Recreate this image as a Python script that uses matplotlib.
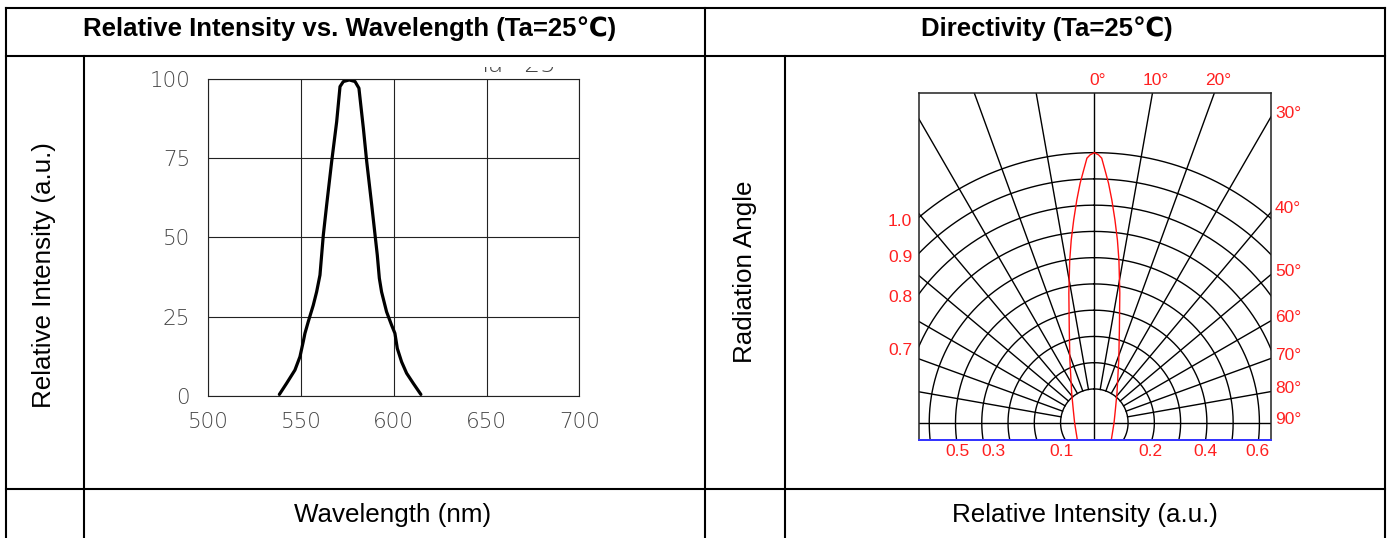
import numpy as np
import matplotlib
matplotlib.use("Agg")
import matplotlib.pyplot as plt
from matplotlib.transforms import Bbox

# spectrum (wavelength nm, relative intensity %)
wavelength = [538.3, 542.2, 546.7, 549.4, 551.2, 552.1, 553.9, 556.6, 558.4, 560.2,
              561.1, 562.0, 563.8, 566.5, 569.2, 571.0, 572.8, 576.0, 579.1, 581.2,
              583.6, 585.4, 588.1, 589.9, 591.1, 592.2, 593.4, 596.1, 598.8, 600.6,
              601.9, 604.2, 606.9, 610.5, 614.6]
intensity = [0.4, 3.9, 8.1, 12.3, 17.1, 19.7, 23.4, 28.6, 32.8, 38.1,
             44.4, 50.7, 60.2, 73.9, 86.5, 97.6, 99.2, 99.7, 99.2, 97.1,
             84.4, 73.9, 60.2, 50.7, 44.4, 37.1, 32.8, 26.5, 22.3, 19.7,
             14.9, 10.7, 7.1, 3.9, 0.4]
x_ticks = [500, 550, 600, 650, 700]
y_ticks = [0, 25, 50, 75, 100]

# directivity lobe (angle deg, relative intensity)
lobe_angle = [0, 0.9, 1.6, 2.4, 3.4, 4.5, 5.8, 7.2, 8.6, 11.1, 15.1, 21.3, 37.4, 58.8, 90, 134]
lobe_int = [1.0, 0.992, 0.98, 0.937, 0.888, 0.827, 0.755, 0.682, 0.609, 0.49, 0.356,
            0.249, 0.138, 0.091, 0.073, 0.088]
top_angles = [0, 10, 20]
side_angles = [30, 40, 50, 60, 70, 80, 90]
left_labels = ["1.0", "0.9", "0.8", "0.7"]
bottom_labels = ["0.5", "0.3", "0.1", "0.2", "0.4", "0.6"]
bottom_label_x = [-0.505, -0.375, -0.12, 0.206, 0.41, 0.603]

W, H = 1390, 538
fig = plt.figure(figsize=(W / 100, H / 100), dpi=100)

# ---- table frame ----
tab = fig.add_axes([0, 0, 1, 1])
tab.set_xlim(0, W)
tab.set_ylim(H, 0)
tab.axis("off")
lw_tab = 1.5
x0, x1, y0 = 5.5, 1385, 7.5
for y in [y0, 55.7, 489]:
    tab.plot([x0, x1], [y, y], color="black", lw=lw_tab, solid_capstyle="projecting")
for x in [x0, 705, x1]:
    tab.plot([x, x], [y0, H], color="black", lw=lw_tab)
for x in [83.7, 785]:
    tab.plot([x, x], [55.7, H], color="black", lw=lw_tab)

hdr = dict(family=["Liberation Sans", "DejaVu Sans"], fontweight="bold", fontsize=18.5,
           ha="center", va="center")
tab.text(350, 29, "Relative Intensity vs. Wavelength (Ta=25℃)", **hdr)
tab.text(1047, 29, "Directivity (Ta=25℃)", **hdr)
lab = dict(family=["Liberation Sans", "DejaVu Sans"], fontsize=18.7, ha="center", va="center")
tab.text(44, 275, "Relative Intensity (a.u.)", rotation=90, **lab)
tab.text(745, 272, "Radiation Angle", rotation=90, **lab)
tab.text(393, 515, "Wavelength (nm)", **lab)
tab.text(1085, 515, "Relative Intensity (a.u.)", **lab)

# ---- spectrum chart ----
thin = dict(family="DejaVu Sans", fontweight="light", fontsize=15.5, color="#444444")
ax = fig.add_axes([208.3 / W, 1 - 395.7 / H, 371 / W, 316.7 / H])
ax.plot(wavelength, intensity, color="black", lw=2.3, solid_capstyle="round",
        solid_joinstyle="round")
ax.set_xlim(500, 700)
ax.set_ylim(0, 100)
ax.set_xticks(x_ticks)
ax.set_yticks(y_ticks)
ax.set_xticklabels([str(v) for v in x_ticks], **thin)
ax.set_yticklabels([str(v) for v in y_ticks], **thin)
ax.tick_params(length=0, pad=12)
ax.tick_params(axis="y", pad=13)
ax.grid(True, color="#222222", lw=0.8)
for s in ax.spines.values():
    s.set_color("#222222")
    s.set_linewidth(0.8)

# clipped leftover of the original "Ta=25" annotation
frag = tab.text(478, 72.5, "Ta=25", ha="left", va="baseline",
                **dict(thin, fontsize=18))
frag.set_clip_box(Bbox([[470, 0], [600, H - 67]]))
frag.set_clip_on(True)

# ---- directivity chart ----
xl, xr, yb, yt = -0.649, 0.654, -0.064, 1.222
dx = fig.add_axes([919 / W, 1 - 440 / H, 352 / W, 347.3 / H])
dx.set_xlim(xl, xr)
dx.set_ylim(yb, yt)
dx.set_xticks([])
dx.set_yticks([])
for k in ["top", "left", "right"]:
    dx.spines[k].set_color("#222222")
    dx.spines[k].set_linewidth(1.1)
dx.spines["bottom"].set_color("#3030ff")
dx.spines["bottom"].set_linewidth(1.4)

grid_kw = dict(color="black", lw=1.0)
rings = np.linspace(0.125, 1.0, 10)
t = np.linspace(0, 2 * np.pi, 721)
for r in rings:
    dx.plot(r * np.sin(t), r * np.cos(t), **grid_kw)
for a in range(10, 90, 10):
    for sgn in (-1, 1):
        s = np.radians(a)
        dx.plot([sgn * rings[0] * np.sin(s), sgn * 2 * np.sin(s)],
                [rings[0] * np.cos(s), 2 * np.cos(s)], **grid_kw)
dx.axvline(0, **grid_kw)
dx.axhline(0, **grid_kw)

ang = np.radians(lobe_angle)
rr = np.array(lobe_int)
lx = np.concatenate([-(rr * np.sin(ang))[::-1], (rr * np.sin(ang))[1:]])
ly = np.concatenate([(rr * np.cos(ang))[::-1], (rr * np.cos(ang))[1:]])
dx.plot(lx, ly, color="#ff1010", lw=1.0)

red = dict(family=["Liberation Sans Narrow", "Liberation Sans", "DejaVu Sans"],
           fontsize=12.5, color="#ff2020", clip_on=False)
for a in top_angles:
    dx.text(yt * np.tan(np.radians(a)) + 0.012, yt + 0.047, f"{a}°", ha="center",
            va="center", **red)
for a in side_angles:
    dx.text(xr + 0.015, xr / np.tan(np.radians(a)) + 0.012, f"{a}°", ha="left",
            va="center", **red)
for txt, r in zip(left_labels, rings[::-1]):
    dx.text(xl - 0.07, np.sqrt(r ** 2 - xl ** 2) - 0.015, txt, ha="center", va="center", **red)
for txt, x in zip(bottom_labels, bottom_label_x):
    dx.text(x, yb - 0.044, txt, ha="center", va="center", **red)

fig.savefig("out.png", dpi=100, facecolor="white")
